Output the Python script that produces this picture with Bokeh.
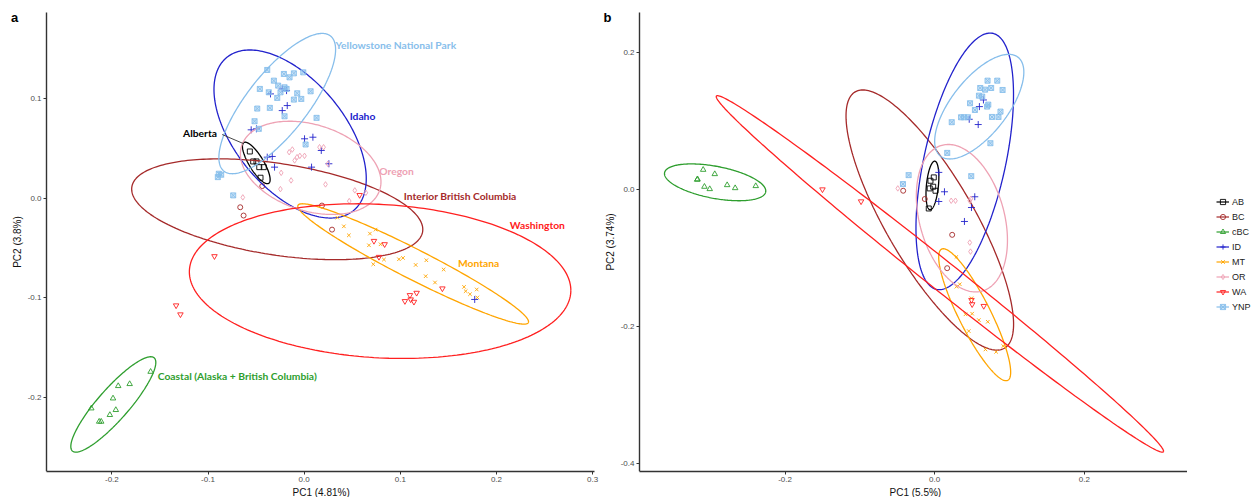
import numpy as np
from bokeh.plotting import figure
from bokeh.layouts import row
from bokeh.models import (Legend, LegendItem, Label, FixedTicker, Title,
                          NumeralTickFormatter, Range1d)
from bokeh.core.properties import value
from bokeh.embed import file_html
from bokeh.resources import INLINE

# ---------------------------------------------------------------- groups
groups = ["AB", "BC", "cBC", "ID", "MT", "OR", "WA", "YNP"]
colors = {"AB": "#000000", "BC": "#A52A2A", "cBC": "#2E9E2E", "ID": "#2222CC",
          "MT": "#FFA500", "OR": "#EEA2B4", "WA": "#FF2020", "YNP": "#87BEEB"}
markers = {"AB": "square", "BC": "circle", "cBC": "triangle", "ID": "cross",
           "MT": "x", "OR": "diamond", "WA": "inverted_triangle", "YNP": "square_x"}
marker_size = {"AB": 5, "BC": 5, "cBC": 5.5, "ID": 7, "MT": 5, "OR": 5.5, "WA": 5.5,
               "YNP": 5}

# ---------------------------------------------------------------- panel a scores (PC1 4.81%, PC2 3.8%)
a_AB_x = [-0.0565, -0.0530, -0.0496, -0.0467, -0.0420, -0.0454]
a_AB_y = [0.0467, 0.0367, 0.0367, 0.0310, 0.0310, 0.0204]
a_BC_x = [-0.0436, -0.0665, -0.0630, 0.0185, 0.0290]
a_BC_y = [0.0120, -0.0092, -0.0175, -0.0075, -0.0316]
a_cBC_x = [-0.1597, -0.1815, -0.1934, -0.1988, -0.2214, -0.1959, -0.2021, -0.2111, -0.2132]
a_cBC_y = [-0.1740, -0.1863, -0.1883, -0.2007, -0.2107, -0.2123, -0.2173, -0.2240, -0.2240]
a_ID_x = [-0.0228, -0.0183, -0.0350, -0.0228, -0.0176, -0.0551, -0.0496, 0.0004,
          0.0091, 0.0178, 0.0257, 0.0077, -0.0308, -0.0384, -0.0332, 0.1774]
a_ID_y = [0.1094, 0.1077, 0.1044, 0.0877, 0.0927, 0.0684, 0.0694, 0.0594,
          0.0610, 0.0477, 0.0344, 0.0310, 0.0310, 0.0410, 0.0417, -0.1016]
a_MT_x = [0.0345, 0.0413, 0.0465, 0.0684, 0.0743, 0.0674, 0.0795, 0.0830, 0.0719,
          0.0986, 0.1028, 0.1160, 0.1271, 0.1451, 0.1264, 0.1361, 0.1663, 0.1680,
          0.1725, 0.1795, 0.1802]
a_MT_y = [-0.0196, -0.0283, -0.0373, -0.0356, -0.0316, -0.0473, -0.0463, -0.0616, -0.0663,
          -0.0613, -0.0600, -0.0670, -0.0623, -0.0716, -0.0783, -0.0846, -0.0890, -0.0933,
          -0.0963, -0.0916, -0.0996]
a_OR_x = [-0.0156, -0.0123, -0.0099, -0.0074, -0.0045, 0.0004, 0.0160, 0.0202, 0.0247,
          -0.0239, -0.0136, -0.0247, 0.0222, 0.0527, 0.0642, 0.0469, -0.0638]
a_OR_y = [0.0460, 0.0487, 0.0377, 0.0410, 0.0423, 0.0423, 0.0510, 0.0510, 0.0343,
          0.0253, 0.0177, 0.0090, 0.0137, 0.0077, 0.0053, -0.0030, 0.0007]
a_WA_x = [0.0577, 0.0726, 0.0837, 0.0778, 0.1438, 0.1170, 0.1100, 0.1048, 0.1108,
          0.1142, -0.0933, -0.1332, -0.1287]
a_WA_y = [0.0030, -0.0430, -0.0463, -0.0590, -0.0906, -0.0950, -0.0973, -0.1033, -0.1016,
          -0.1040, -0.0583, -0.1076, -0.1166]
a_YNP_x = [-0.0384, -0.0211, -0.0152, -0.0107, -0.0009, -0.0315, -0.0270, -0.0461, -0.0368,
           -0.0246, -0.0204, -0.0183, -0.0072, 0.0067, -0.0280, -0.0107, -0.0030, -0.0357,
           -0.0488, -0.0204, 0.0129, -0.0516, -0.0472, 0.0015, -0.0888, -0.0863, -0.0898,
           -0.0738]
a_YNP_y = [0.1284, 0.1244, 0.1210, 0.1250, 0.1260, 0.1177, 0.1127, 0.1094, 0.1060,
           0.1060, 0.1110, 0.1094, 0.1050, 0.1070, 0.1004, 0.0987, 0.0994, 0.0904,
           0.0897, 0.0820, 0.0804, 0.0770, 0.0694, 0.0537, 0.0244, 0.0234, 0.0210,
           0.0027]

# ellipse parameters per group: centre, half-extent in x / y, correlation
a_ell_cx = [-0.0498, -0.0280, -0.1985, -0.0146, 0.1134, 0.0068, 0.0790, -0.0280]
a_ell_cy = [0.0352, -0.0112, -0.2068, 0.0642, -0.0660, 0.0303, -0.0832, 0.0947]
a_ell_hx = [0.0144, 0.1514, 0.0442, 0.0792, 0.1200, 0.0731, 0.1984, 0.0607]
a_ell_hy = [0.0208, 0.0505, 0.0478, 0.0842, 0.0603, 0.0467, 0.0775, 0.0703]
a_ell_r = [-0.80, -0.40, 0.88, -0.53, -0.96, -0.30, -0.12, 0.77]

# group labels drawn next to the ellipses
a_lab_text = ["Alberta", "Interior British Columbia", "Coastal (Alaska + British Columbia)",
              "Idaho", "Montana", "Oregon", "Washington", "Yellowstone National Park"]
a_lab_x = [-0.1260, 0.1037, -0.1523, 0.0473, 0.1600, 0.0782, 0.2139, 0.0327]
a_lab_y = [0.0650, 0.0017, -0.1780, 0.0827, -0.0650, 0.0270, -0.0273, 0.1534]
a_leader_x = [-0.0853, -0.0627]
a_leader_y = [0.0637, 0.0544]

# ---------------------------------------------------------------- panel b scores (PC1 5.5%, PC2 3.74%)
b_AB_x = [-0.0012, -0.0056, -0.0020, 0.0011, -0.0066, -0.0079]
b_AB_y = [0.0176, 0.0127, 0.0040, -0.0019, 0.0015, -0.0278]
b_BC_x = [-0.0421, -0.0132, 0.0234, 0.0167]
b_BC_y = [-0.0019, -0.0140, -0.0663, -0.1150]
b_cBC_x = [-0.3095, -0.2940, -0.3175, -0.3170, -0.3078, -0.3007, -0.2774, -0.2667, -0.2392]
b_cBC_y = [0.0288, 0.0225, 0.0142, 0.0150, 0.0040, 0.0006, 0.0064, 0.0020, 0.0050]
b_ID_x = [0.0652, 0.0598, 0.0462, 0.0582, 0.0055, 0.0131, 0.0055, 0.0536, 0.0492, 0.0398]
b_ID_y = [0.1307, 0.1210, 0.1025, 0.0948, 0.0249, -0.0034, -0.0176, -0.0107, -0.0264, -0.0468]
b_MT_x = [0.0291, 0.0291, 0.0336, 0.0492, 0.0501, 0.0412, 0.0590, 0.0710, 0.0456,
          0.0679, 0.0822, 0.0916]
b_MT_y = [-0.0985, -0.1420, -0.1385, -0.1590, -0.1815, -0.1824, -0.1908, -0.1933, -0.2069,
          -0.2337, -0.2372, -0.2288]
b_OR_x = [-0.0493, 0.0221, 0.0278, 0.0469, 0.0484, 0.0469, 0.0479]
b_OR_y = [0.0015, -0.0165, -0.0165, -0.0165, -0.0136, -0.0776, -0.0908]
b_WA_x = [-0.1500, -0.0984, 0.0492, 0.0501, 0.0656]
b_WA_y = [0.0000, -0.0175, -0.1615, -0.1678, -0.1703]
b_YNP_x = [0.0707, 0.0837, 0.0609, 0.0755, 0.0674, 0.0908, 0.0592, 0.0636, 0.0473,
           0.0717, 0.0701, 0.0538, 0.0880, 0.0353, 0.0391, 0.0446, 0.0766, 0.0853,
           0.0228, 0.0745, 0.0168, -0.0348, -0.0424, 0.0489]
b_YNP_y = [0.1589, 0.1589, 0.1482, 0.1482, 0.1458, 0.1453, 0.1370, 0.1356, 0.1259,
           0.1239, 0.1210, 0.1161, 0.1137, 0.1054, 0.1054, 0.1054, 0.1059, 0.1059,
           0.0982, 0.0675, 0.0534, 0.0209, 0.0078, 0.0194]

b_ell_cx = [-0.0030, -0.0065, -0.2935, 0.0402, 0.0535, 0.0364, 0.0070, 0.0596]
b_ell_cy = [0.0058, -0.0447, 0.0104, 0.0410, -0.1830, -0.0420, -0.1234, 0.1209]
b_ell_hx = [0.0086, 0.1120, 0.0677, 0.0652, 0.0481, 0.0609, 0.2990, 0.0596]
b_ell_hy = [0.0355, 0.1900, 0.0269, 0.1874, 0.0964, 0.1077, 0.2604, 0.0764]
b_ell_r = [0.35, -0.80, -0.47, 0.52, -0.87, -0.30, -0.9945, 0.66]

a_points = {"AB": (a_AB_x, a_AB_y), "BC": (a_BC_x, a_BC_y), "cBC": (a_cBC_x, a_cBC_y),
            "ID": (a_ID_x, a_ID_y), "MT": (a_MT_x, a_MT_y), "OR": (a_OR_x, a_OR_y),
            "WA": (a_WA_x, a_WA_y), "YNP": (a_YNP_x, a_YNP_y)}
b_points = {"AB": (b_AB_x, b_AB_y), "BC": (b_BC_x, b_BC_y), "cBC": (b_cBC_x, b_cBC_y),
            "ID": (b_ID_x, b_ID_y), "MT": (b_MT_x, b_MT_y), "OR": (b_OR_x, b_OR_y),
            "WA": (b_WA_x, b_WA_y), "YNP": (b_YNP_x, b_YNP_y)}

TICK_FONT = "Liberation Sans"
FRAME_W, FRAME_H = 548, 460          # size of each plotting panel in pixels


def ellipse_path(cx, cy, hx, hy, r, n=240):
    t = np.linspace(0, 2 * np.pi, n)
    xs = cx + hx * np.cos(t)
    ys = cy + hy * (r * np.cos(t) + np.sqrt(1 - r * r) * np.sin(t))
    return xs, ys


def make_panel(width, xlim, ylim, left_px, right_px, xticks, yticks, xlabel, ylabel,
               xlabel_left):
    """Panel whose frame reaches the canvas top/left so the panel tag can sit there;
    the y axis is pinned to the left limit of the data window."""
    dx = (xlim[1] - xlim[0]) / FRAME_W
    dy = (ylim[1] - ylim[0]) / FRAME_H
    x_range = Range1d(xlim[0] - left_px * dx, xlim[1])
    y_range = Range1d(ylim[0], ylim[1] + 12 * dy)
    p = figure(width=width, height=497, output_backend="svg", toolbar_location=None,
               x_range=x_range, y_range=y_range, min_border_left=0,
               min_border_right=right_px, min_border_top=0, min_border_bottom=0)
    p.xgrid.visible = False
    p.ygrid.visible = False
    p.outline_line_color = None
    p.xaxis.ticker = FixedTicker(ticks=xticks)
    p.yaxis.ticker = FixedTicker(ticks=yticks)
    p.xaxis.bounds = xlim
    p.yaxis.bounds = ylim
    p.yaxis.fixed_location = xlim[0]
    p.yaxis.axis_label = ylabel
    for ax in (p.xaxis[0], p.yaxis[0]):
        ax.formatter = NumeralTickFormatter(format="0.0")
        ax.axis_line_color = "#333333"
        ax.axis_line_width = 1.4
        ax.major_tick_line_color = "#333333"
        ax.major_tick_out = 3
        ax.major_tick_in = 0
        ax.minor_tick_line_color = None
        ax.major_label_text_font = TICK_FONT
        ax.major_label_text_font_size = "8px"
        ax.major_label_text_color = "#4D4D4D"
        ax.major_label_standoff = 2
        ax.axis_label_text_font = TICK_FONT
        ax.axis_label_text_font_size = "10px"
        ax.axis_label_text_font_style = "normal"
        ax.axis_label_text_color = "#111111"
        ax.axis_label_standoff = 2
    p.add_layout(Title(text=xlabel, align="left", offset=xlabel_left, standoff=0,
                       text_font=TICK_FONT, text_font_size="10px",
                       text_font_style="normal", text_color="#111111"), "below")
    return p


def scatter_style(g):
    fill = colors[g] if g == "YNP" else None
    return dict(marker=markers[g], size=marker_size[g], line_color=colors[g],
                fill_color=fill, fill_alpha=0.45, line_width=0.9)


def draw_groups(p, points, cx, cy, hx, hy, rr):
    for i, g in enumerate(groups):
        xs, ys = points[g]
        p.scatter(xs, ys, **scatter_style(g))
        ex, ey = ellipse_path(cx[i], cy[i], hx[i], hy[i], rr[i])
        p.line(ex, ey, line_color=colors[g], line_width=1.3)


def panel_tag(p, text, px, py):
    # px, py: canvas pixels from the top-left corner of this figure
    xr, yr = p.x_range, p.y_range
    fw = p.width - p.min_border_right
    x = xr.start + px * (xr.end - xr.start) / fw
    y = yr.end - py * (yr.end - yr.start) / (FRAME_H + 12)
    p.add_layout(Label(x=x, y=y, text=text, text_font=TICK_FONT, text_font_style="bold",
                       text_font_size="13px", text_align="center",
                       text_baseline="middle", text_color="black"))


# ---------------------------------------------------------------- panel a
pa = make_panel(600, (-0.268, 0.302), (-0.274, 0.186), 46, 6,
                [-0.2, -0.1, 0.0, 0.1, 0.2, 0.3], [-0.2, -0.1, 0.0, 0.1],
                "PC1 (4.81%)", "PC2 (3.8%)", 292)
draw_groups(pa, a_points, a_ell_cx, a_ell_cy, a_ell_hx, a_ell_hy, a_ell_r)
pa.line(a_leader_x, a_leader_y, line_color="#333333", line_width=0.9)
pa.text(a_lab_x, a_lab_y, text=a_lab_text, text_color=[colors[g] for g in groups],
        text_font=value("Lato"), text_font_style="bold", text_font_size="10.3px",
        text_align="left", text_baseline="middle")
panel_tag(pa, "a", 14, 17)

# ---------------------------------------------------------------- panel b
pb = make_panel(587, (-0.3946, 0.338), (-0.412, 0.2585), 39, 0,
                [-0.2, 0.0, 0.2], [-0.4, -0.2, 0.0, 0.2],
                "PC1 (5.5%)", "PC2 (3.74%)", 289)
draw_groups(pb, b_points, b_ell_cx, b_ell_cy, b_ell_hx, b_ell_hy, b_ell_r)
panel_tag(pb, "b", 7, 17)

# ---------------------------------------------------------------- key for panel b
pk = figure(width=72, height=497, output_backend="svg", toolbar_location=None,
            x_range=Range1d(0, 1), y_range=Range1d(0, 1),
            x_axis_location=None, y_axis_location=None, min_border=0)
pk.xgrid.visible = False
pk.ygrid.visible = False
pk.outline_line_color = None
items = []
for g in groups:
    # off-window samples: only their styles are used by the key
    ln = pk.line([-5, -4], [-5, -4], line_color=colors[g], line_width=1.2)
    st = scatter_style(g)
    st["size"] = min(st["size"], 5)
    sc = pk.scatter([-5], [-5], **st)
    items.append(LegendItem(label=g, renderers=[ln, sc]))
pk.add_layout(Legend(items=items, location=(29, 158), orientation="vertical", margin=0,
                     padding=2, glyph_width=13, glyph_height=13, label_height=13,
                     spacing=2, label_standoff=3, label_text_font=TICK_FONT,
                     label_text_font_size="9px", label_text_color="#222222",
                     border_line_color=None, background_fill_alpha=0))

layout = row(pa, pb, pk)
open("out.html", "w").write(file_html(layout, INLINE))
